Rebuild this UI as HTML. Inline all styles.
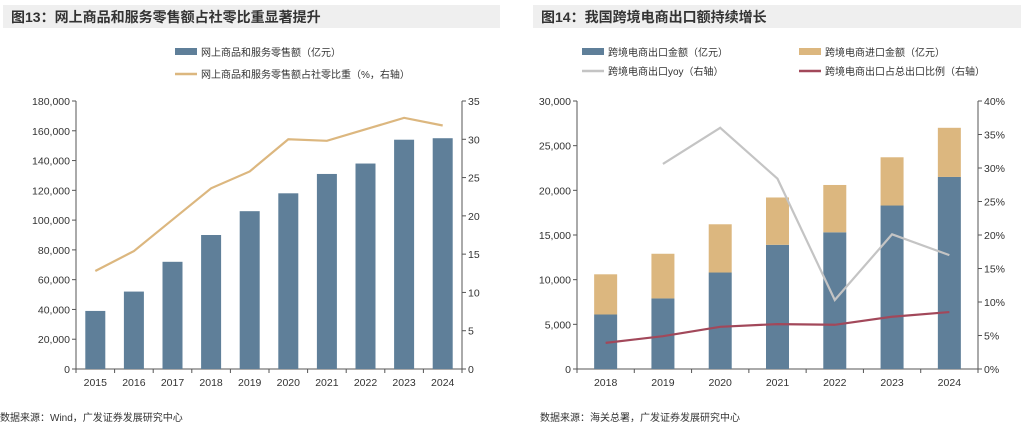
<!DOCTYPE html>
<html><head><meta charset="utf-8">
<style>
body{margin:0;width:1024px;height:425px;background:#fff;overflow:hidden;font-family:"Liberation Sans","Noto Sans CJK SC",sans-serif;}
svg{position:absolute;left:0;top:0}
text{font-family:"Liberation Sans","Noto Sans CJK SC",sans-serif;fill:#333}
</style></head><body>
<svg id="s" width="1024" height="425">
<rect x="3" y="5" width="497" height="23" fill="#efefef"/>
<text x="11" y="22" font-size="14" font-weight="bold" fill="#222">图13：网上商品和服务零售额占社零比重显著提升</text>
<rect x="533" y="5" width="488" height="23" fill="#efefef"/>
<text x="541" y="22" font-size="14" font-weight="bold" fill="#222">图14：我国跨境电商出口额持续增长</text>
<text x="0" y="421" font-size="10" fill="#444">数据来源：Wind，广发证券发展研究中心</text>
<text x="540" y="421" font-size="10" fill="#444">数据来源：海关总署，广发证券发展研究中心</text>
<!-- legends -->
<rect x="175" y="48" width="22" height="7" fill="#5f7f99"/>
<text x="201" y="56" font-size="10">网上商品和服务零售额（亿元）</text>
<line x1="175" y1="74" x2="197" y2="74" stroke="#dcb77f" stroke-width="2.5"/>
<text x="201" y="78" font-size="10">网上商品和服务零售额占社零比重（%，右轴）</text>
<rect x="582" y="48" width="22" height="7" fill="#5f7f99"/>
<text x="608" y="56" font-size="10">跨境电商出口金额（亿元）</text>
<rect x="799" y="48" width="22" height="7" fill="#dcb77f"/>
<text x="825" y="56" font-size="10">跨境电商进口金额（亿元）</text>
<line x1="582" y1="71" x2="604" y2="71" stroke="#c4c4c4" stroke-width="2.5"/>
<text x="608" y="75" font-size="10">跨境电商出口yoy（右轴）</text>
<line x1="799" y1="71" x2="821" y2="71" stroke="#a2485a" stroke-width="2.5"/>
<text x="825" y="75" font-size="10">跨境电商出口占总出口比例（右轴）</text>
<g id="g1"></g><g id="g2"></g>
</svg>
<script>
const years1=["2015","2016","2017","2018","2019","2020","2021","2022","2023","2024"];
const sales1=[39000,52000,72000,90000,106000,118000,131000,138000,154000,155000];
const share1=[12.8,15.4,19.5,23.6,25.8,30.0,29.8,31.3,32.8,31.8];
const leftTicks1=[0,20000,40000,60000,80000,100000,120000,140000,160000,180000];
const rightTicks1=[0,5,10,15,20,25,30,35];
const years2=["2018","2019","2020","2021","2022","2023","2024"];
const exp2=[6100,7900,10800,13900,15300,18300,21500];
const imp2=[4500,5000,5400,5300,5300,5400,5500];
const yoy2=[null,30.6,36.0,28.4,10.3,20.1,17.0];
const ratio2=[3.9,4.9,6.3,6.7,6.6,7.8,8.5];
const leftTicks2=[0,5000,10000,15000,20000,25000,30000];
const rightTicks2=[0,5,10,15,20,25,30,35,40];
const NS="http://www.w3.org/2000/svg";
function el(p,t,a){const e=document.createElementNS(NS,t);for(const k in a)e.setAttribute(k,a[k]);p.appendChild(e);return e;}
function fmt(v){return v.toLocaleString('en-US');}
function chart(g,o){
  const top=101,bot=369,L=o.L,R=o.R;
  const yl=v=>bot-(v/o.lmax)*(bot-top), yr=v=>bot-(v/o.rmax)*(bot-top);
  const n=o.cats.length, step=(R-L)/n, xc=i=>L+step*(i+0.5);
  let a=el(g,'line',{x1:L,y1:top,x2:L,y2:bot,stroke:'#555','stroke-width':1});
  
  a=el(g,'line',{x1:R,y1:top,x2:R,y2:bot,stroke:'#555','stroke-width':1});
  
  a=el(g,'line',{x1:L,y1:bot,x2:R,y2:bot,stroke:'#555','stroke-width':1});
  
  o.lt.forEach(v=>{el(g,'line',{x1:L-4,y1:yl(v),x2:L,y2:yl(v),stroke:'#555'});
    const t=el(g,'text',{x:L-6,y:yl(v)+4,'font-size':10.5,'text-anchor':'end'});t.textContent=fmt(v);
    });
  o.rt.forEach(v=>{el(g,'line',{x1:R,y1:yr(v),x2:R+4,y2:yr(v),stroke:'#555'});
    const t=el(g,'text',{x:R+6,y:yr(v)+4,'font-size':10.5});t.textContent=v+o.rs;
    });
  for(let i=0;i<=n;i++)el(g,'line',{x1:L+step*i,y1:bot,x2:L+step*i,y2:bot+4,stroke:'#555'});
  o.cats.forEach((c,i)=>{const t=el(g,'text',{x:xc(i),y:bot+17,'font-size':10.5,'text-anchor':'middle'});t.textContent=c;
    });
  o.bars.forEach(b=>{let base=o.cats.map(()=>0);
    b.forEach(s=>{s.v.forEach((v,i)=>{const r=el(g,'rect',{x:xc(i)-o.bw/2,y:yl(base[i]+v),width:o.bw,height:yl(base[i])-yl(base[i]+v),fill:s.c});
      base[i]+=v;});});});
  o.lines.forEach(s=>{const pts=[];s.v.forEach((v,i)=>{if(v!=null)pts.push(xc(i)+','+yr(v));});
    const p=el(g,'polyline',{points:pts.join(' '),fill:'none',stroke:s.c,'stroke-width':2.2});
    });
}
chart(document.getElementById('g1'),{L:76,R:462,lmax:180000,rmax:35,lt:leftTicks1,rt:rightTicks1,rs:'',cats:years1,bw:20,
  bars:[[{v:sales1,c:'#5f7f99',n:'online-sales'}]],lines:[{v:share1,c:'#dcb77f',n:'share'}]});
chart(document.getElementById('g2'),{L:577,R:978,lmax:30000,rmax:40,lt:leftTicks2,rt:rightTicks2,rs:'%',cats:years2,bw:23,
  bars:[[{v:exp2,c:'#5f7f99',n:'export'},{v:imp2,c:'#dcb77f',n:'import'}]],
  lines:[{v:yoy2,c:'#c4c4c4',n:'yoy'},{v:ratio2,c:'#a2485a',n:'ratio'}]});
</script>
</body></html>
